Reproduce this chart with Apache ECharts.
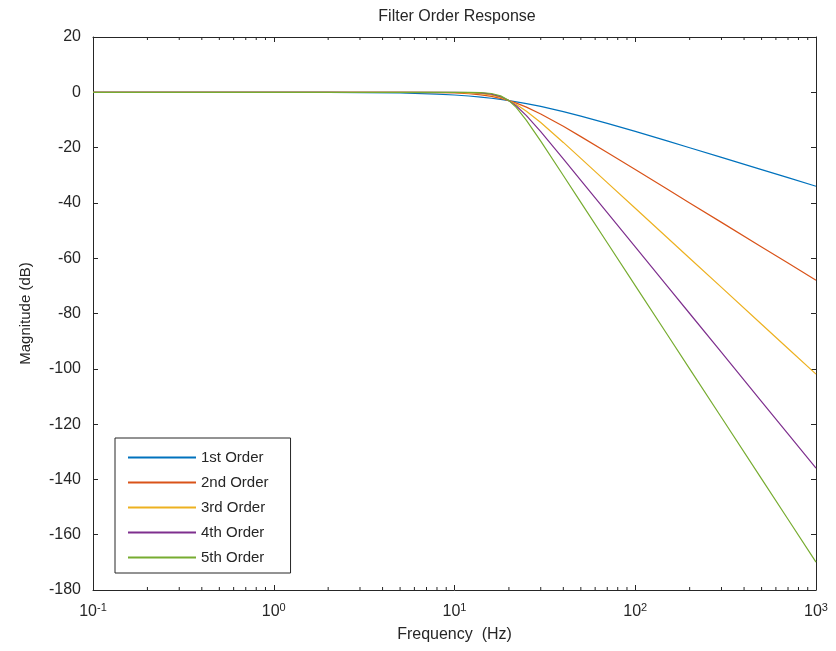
<!DOCTYPE html>
<html>
<head>
<meta charset="utf-8">
<script src="https://cdn.jsdelivr.net/npm/echarts@6/dist/echarts.min.js"></script>
<style>
  html, body { margin: 0; padding: 0; background: #fff; }
  #chart { width: 836px; height: 651px; }
</style>
</head>
<body>
<div id="chart"></div>
<script>
// values (dB), frequency in Hz
const freqHz = [0.1, 1, 2, 5, 8, 10, 12, 14, 16, 18, 20, 22, 25, 30, 40, 50, 70, 100, 150, 200, 300, 500, 700, 1000]
const order1 = [0, 0, -0.04, -0.26, -0.64, -0.97, -1.34, -1.73, -2.15, -2.58, -3.01, -3.44, -4.09, -5.12, -6.99, -8.6, -11.22, -14.15, -17.58, -20.04, -23.54, -27.96, -30.88, -33.98]
const order2 = [0, 0, 0, -0.02, -0.11, -0.26, -0.53, -0.93, -1.49, -2.19, -3.01, -3.92, -5.37, -7.83, -12.3, -16.03, -21.79, -27.96, -35.0, -40.0, -47.04, -55.92, -61.76, -67.96]
const order3 = [0, 0, 0, 0, -0.02, -0.07, -0.2, -0.48, -1.01, -1.85, -3.01, -4.43, -6.83, -10.93, -18.13, -23.89, -32.65, -41.94, -52.5, -60.0, -70.57, -83.88, -92.64, -101.94]
const order4 = [0, 0, 0, 0, 0, -0.02, -0.07, -0.24, -0.67, -1.55, -3.01, -4.97, -8.43, -14.25, -24.1, -31.84, -43.53, -55.92, -70.0, -80.0, -94.09, -111.84, -123.52, -135.92]
const order5 = [0, 0, 0, 0, 0, 0, -0.03, -0.12, -0.44, -1.3, -3.01, -5.56, -10.13, -17.68, -30.1, -39.79, -54.41, -69.9, -87.5, -100.0, -117.6, -139.8, -154.4, -169.9]
const seriesNames = ['1st Order', '2nd Order', '3rd Order', '4th Order', '5th Order']
const minorTicks = [0.2, 0.3, 0.4, 0.5, 0.6, 0.7, 0.8, 0.9, 2, 3, 4, 5, 6, 7, 8, 9,
  20, 30, 40, 50, 60, 70, 80, 90, 200, 300, 400, 500, 600, 700, 800, 900]

const colors = ['#0072BD', '#D95319', '#EDB120', '#7E2F8E', '#77AC30']
const font = 'Liberation Sans, Arial, Helvetica, sans-serif'
const ink = '#262626'

const chart = echarts.init(document.getElementById('chart'))

function pairs(ys) {
  return freqHz.map((f, i) => [f, ys[i]])
}

const lineSeries = [order1, order2, order3, order4, order5].map((ys, i) => ({
  name: seriesNames[i],
  type: 'line',
  data: pairs(ys),
  symbol: 'none',
  smooth: false,
  color: colors[i],
  lineStyle: { width: 1.2, color: colors[i] },
  z: 3 + i
}))

// minor log ticks on top and bottom edges
const minorTickSeries = {
  type: 'custom',
  silent: true,
  data: minorTicks.map(v => [v, -180]),
  encode: { x: 0, y: 1 },
  z: 10,
  renderItem(params, api) {
    const x = api.coord([api.value(0), -180])[0]
    const cs = params.coordSys
    const style = { stroke: ink, lineWidth: 1 }
    return {
      type: 'group',
      children: [
        { type: 'line', shape: { x1: x, y1: cs.y + cs.height, x2: x, y2: cs.y + cs.height - 3 }, style },
        { type: 'line', shape: { x1: x, y1: cs.y, x2: x, y2: cs.y + 3 }, style }
      ]
    }
  }
}

const option = {
  backgroundColor: '#fff',
  animation: false,
  title: {
    text: 'Filter Order Response',
    left: 452,
    textAlign: 'center',
    top: 4,
    textStyle: { fontFamily: font, fontSize: 16, fontWeight: 'normal', color: ink }
  },
  grid: { left: 93, right: 20, top: 37, bottom: 61 },
  legend: {
    data: seriesNames,
    orient: 'vertical',
    left: 115,
    top: 438,
    itemWidth: 68,
    itemHeight: 14,
    itemGap: 10,
    padding: [12, 22, 8, 12],
    borderColor: ink,
    borderWidth: 1,
    backgroundColor: '#fff',
    selectedMode: false,
    itemStyle: { opacity: 0 },
    textStyle: { fontFamily: font, fontSize: 15, color: ink }
  },
  xAxis: [
    {
      type: 'log',
      logBase: 10,
      min: 0.1,
      max: 1000,
      position: 'bottom',
      name: 'Frequency  (Hz)',
      nameLocation: 'middle',
      nameGap: 37,
      nameTextStyle: { fontFamily: font, fontSize: 16, color: ink },
      axisLine: { onZero: false, lineStyle: { color: ink, width: 1 } },
      axisTick: { inside: true, length: 5, lineStyle: { color: ink } },
      splitLine: { show: false },
      axisLabel: {
        margin: 12,
        color: ink,
        formatter: v => '{b|10}{s|' + Math.round(Math.log10(v)) + '}',
        rich: {
          b: { fontFamily: font, fontSize: 16, color: ink },
          s: { fontFamily: font, fontSize: 11, color: ink, padding: [0, 0, 9, 0] }
        }
      }
    },
    {
      type: 'log',
      logBase: 10,
      min: 0.1,
      max: 1000,
      position: 'top',
      axisLine: { onZero: false, lineStyle: { color: ink, width: 1 } },
      axisTick: { inside: true, length: 5, lineStyle: { color: ink } },
      axisLabel: { show: false },
      splitLine: { show: false }
    }
  ],
  yAxis: [
    {
      type: 'value',
      min: -180,
      max: 20,
      interval: 20,
      position: 'left',
      name: 'Magnitude (dB)',
      nameLocation: 'middle',
      nameRotate: 90,
      nameGap: 60,
      nameTextStyle: { fontFamily: font, fontSize: 15, color: ink },
      axisLine: { show: true, onZero: false, lineStyle: { color: ink, width: 1 } },
      axisTick: { show: true, inside: true, length: 5, lineStyle: { color: ink } },
      splitLine: { show: false },
      axisLabel: { margin: 12, fontFamily: font, fontSize: 16, color: ink }
    },
    {
      type: 'value',
      min: -180,
      max: 20,
      interval: 20,
      position: 'right',
      axisLine: { show: true, onZero: false, lineStyle: { color: ink, width: 1 } },
      axisTick: { show: true, inside: true, length: 5, lineStyle: { color: ink } },
      axisLabel: { show: false },
      splitLine: { show: false }
    }
  ],
  series: lineSeries.concat([minorTickSeries])
}

chart.setOption(option)
</script>
</body>
</html>
